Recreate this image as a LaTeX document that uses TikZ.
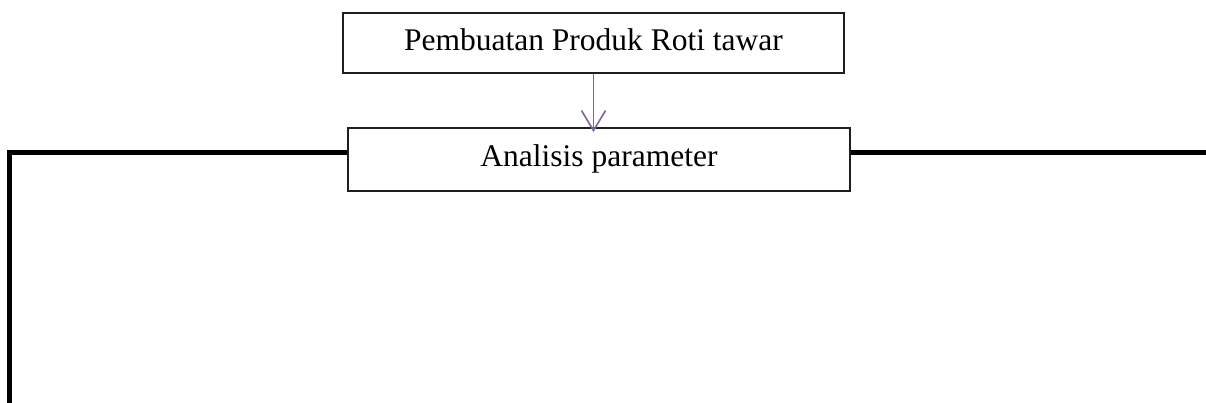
\documentclass[tikz,border=0pt]{standalone}
\usepackage{fontspec}
\setmainfont{Liberation Serif}
\usetikzlibrary{arrows.meta}
\definecolor{arrowpurple}{RGB}{128,100,162}
\definecolor{boxline}{RGB}{30,30,30}
\tikzset{
  procbox/.style={draw=boxline, line width=1.8pt, rectangle, inner sep=0pt,
    font=\fontsize{31.5}{36}\selectfont, text height=21pt, text depth=7pt},
  flowarrow/.style={draw=arrowpurple, line width=1.6pt,
    -{Straight Barb[length=20pt,width=24pt,line width=1.6pt]}},
  thickline/.style={draw=black, line width=5pt, line cap=butt, line join=miter}
}
\begin{document}
\begin{tikzpicture}[x=1pt,y=-1pt]
\useasboundingbox (0,0) rectangle (1206,402);
\node[procbox, minimum width=501pt, minimum height=60pt] (b1) at (593.5,43) {Pembuatan Produk Roti tawar};
\node[procbox, minimum width=502pt, minimum height=63pt] (b2) at (599,159.5) {Analisis parameter};
\coordinate (lc) at (9,152);
\coordinate (lb) at (9,410);
\coordinate (re) at (1212,152);
\draw[flowarrow] (b1.south) -- ([yshift=-5pt]b2.north -| b1.south);
\draw[thickline] (b2.west |- lc) -- (lc) -- (lb);
\draw[thickline] (b2.east |- lc) -- (re);
\end{tikzpicture}
\end{document}
